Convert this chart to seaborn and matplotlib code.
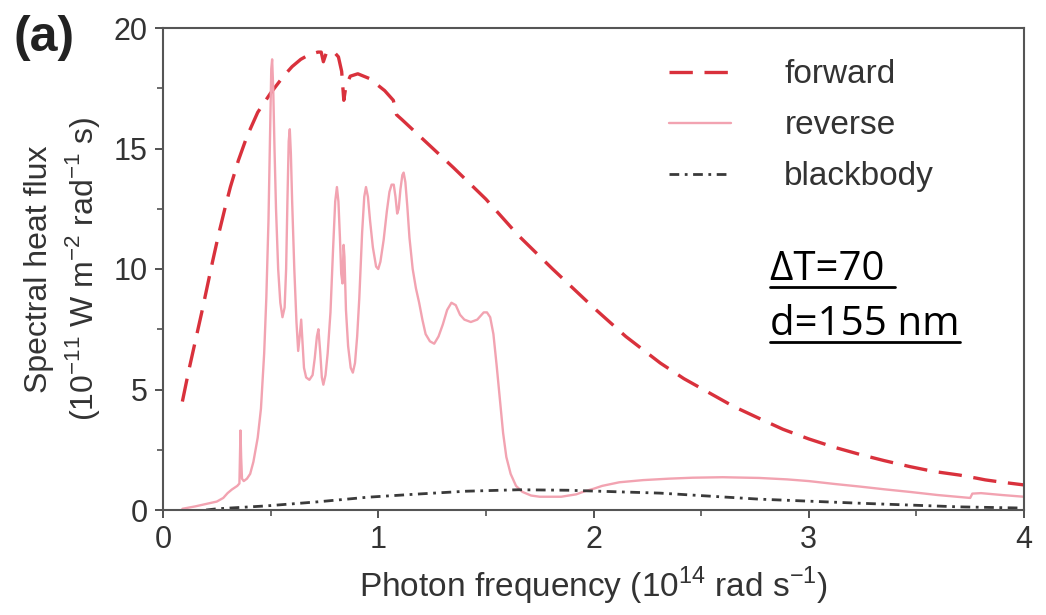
import numpy as np
import pandas as pd
import seaborn as sns
import matplotlib.pyplot as plt
from matplotlib.lines import Line2D
from matplotlib.ticker import MultipleLocator

# Spectral heat flux (10^-11 W m^-2 rad^-1 s) versus photon frequency (10^14 rad/s)
forward_x = [0.09, 0.12, 0.15, 0.18, 0.205, 0.23, 0.26, 0.29, 0.313, 0.35, 0.39,
             0.44, 0.50, 0.56, 0.60, 0.64, 0.68, 0.72, 0.735, 0.745, 0.76, 0.795,
             0.815, 0.83, 0.84, 0.85, 0.87, 0.905, 0.96, 1.03, 1.07, 1.085, 1.11,
             1.17, 1.23, 1.35, 1.50, 1.65, 1.81, 2.00, 2.15, 2.31, 2.42, 2.54,
             2.65, 2.77, 2.88, 3.00, 3.12, 3.24, 3.35, 3.47, 3.58, 3.70, 3.78,
             3.82, 3.90, 4.00]
forward_y = [4.5, 5.8, 7.0, 8.2, 9.25, 10.3, 11.5, 12.6, 13.4, 14.5, 15.5,
             16.5, 17.3, 18.0, 18.4, 18.7, 18.9, 19.0, 19.0, 18.6, 19.0, 19.0,
             18.8, 18.2, 17.0, 17.6, 18.0, 18.1, 17.9, 17.4, 17.0, 16.4, 16.2,
             15.7, 15.2, 14.2, 12.9, 11.4, 10.0, 8.4, 7.2, 6.1, 5.45, 4.85,
             4.3, 3.8, 3.35, 2.95, 2.6, 2.3, 2.05, 1.8, 1.6, 1.45, 1.32,
             1.25, 1.15, 1.04]

reverse_x = [0.09, 0.15, 0.20, 0.25, 0.28, 0.30, 0.32, 0.345, 0.355, 0.358, 0.36,
             0.363, 0.367, 0.375, 0.39, 0.405, 0.42, 0.43, 0.44, 0.455, 0.47,
             0.48, 0.49, 0.497, 0.503, 0.507, 0.512, 0.518, 0.525, 0.535, 0.545,
             0.555, 0.565, 0.572, 0.578, 0.584, 0.589, 0.594, 0.60, 0.61, 0.62,
             0.628, 0.635, 0.642, 0.648, 0.655, 0.665, 0.68, 0.695, 0.705, 0.715,
             0.722, 0.73, 0.738, 0.745, 0.755, 0.765, 0.778, 0.79, 0.80, 0.808,
             0.815, 0.822, 0.828, 0.834, 0.839, 0.843, 0.85, 0.86, 0.872, 0.882,
             0.892, 0.902, 0.912, 0.925, 0.935, 0.943, 0.952, 0.962, 0.975, 0.99,
             1.00, 1.01, 1.025, 1.04, 1.052, 1.062, 1.072, 1.08, 1.088, 1.095,
             1.103, 1.112, 1.118, 1.126, 1.135, 1.145, 1.16, 1.175, 1.19, 1.205,
             1.22, 1.24, 1.26, 1.28, 1.30, 1.32, 1.34, 1.36, 1.38, 1.40, 1.43,
             1.46, 1.49, 1.505, 1.52, 1.535, 1.55, 1.565, 1.58, 1.595, 1.615,
             1.64, 1.67, 1.71, 1.75, 1.85, 1.92, 1.96, 2.00, 2.04, 2.12, 2.23,
             2.35, 2.46, 2.60, 2.77, 2.90, 3.00, 3.12, 3.24, 3.35, 3.47, 3.60,
             3.75, 3.76, 3.80, 3.90, 4.00]
reverse_y = [0.05, 0.15, 0.25, 0.35, 0.5, 0.7, 0.85, 1.0, 1.1, 2.5, 3.3,
             2.2, 1.3, 1.2, 1.3, 1.5, 2.0, 2.5, 3.0, 4.2, 6.5,
             8.8, 12.0, 15.5, 18.3, 18.7, 17.5, 15.0, 12.5, 10.0, 8.6,
             8.0, 8.4, 10.0, 12.8, 15.3, 15.8, 14.8, 12.8, 10.0, 7.8,
             6.6, 7.2, 7.9, 7.0, 5.9, 5.5, 5.4, 5.6, 6.3, 7.2,
             7.5, 6.6, 5.5, 5.2, 5.6, 6.5, 8.2, 10.8, 12.8, 13.4,
             12.8, 11.3, 9.8, 9.4, 11.0, 10.5, 8.3, 6.8, 5.9, 5.7,
             6.1, 7.2, 8.8, 11.5, 13.0, 13.4, 13.0, 12.0, 10.9, 10.1,
             10.0, 10.3, 11.2, 12.4, 13.2, 13.5, 13.5, 13.0, 12.3, 12.5,
             13.3, 13.9, 14.0, 13.6, 12.6, 11.3, 10.0, 9.2, 8.6, 7.9,
             7.3, 7.0, 6.9, 7.2, 7.7, 8.3, 8.6, 8.5, 8.1, 7.9, 7.8,
             7.9, 8.2, 8.2, 8.0, 7.3, 6.0, 4.6, 3.2, 2.2, 1.5,
             1.0, 0.75, 0.6, 0.55, 0.55, 0.65, 0.78, 0.88, 1.0, 1.15, 1.24,
             1.3, 1.34, 1.36, 1.33, 1.27, 1.2, 1.08, 0.97, 0.86, 0.75, 0.62,
             0.5, 0.68, 0.7, 0.62, 0.55]

blackbody_x = [0.20, 0.25, 0.48, 0.72, 0.95, 1.18, 1.41, 1.65, 1.88, 2.31, 2.77,
               3.24, 3.70, 4.00]
blackbody_y = [0.0, 0.05, 0.17, 0.34, 0.53, 0.66, 0.78, 0.84, 0.82, 0.70, 0.45,
               0.28, 0.13, 0.08]

x_ticks = [0, 1, 2, 3, 4]
y_ticks = [0, 5, 10, 15, 20]

sns.set_style("ticks")
plt.rcParams['font.family'] = ['Liberation Sans', 'DejaVu Sans']
plt.rcParams['mathtext.fontset'] = 'custom'
plt.rcParams['mathtext.rm'] = 'Liberation Sans'

fig = plt.figure(figsize=(10.46, 6.15), dpi=100)
ax = fig.add_axes([163 / 1046, 1 - 510 / 615, (1024 - 163) / 1046, (510 - 28) / 615])

sns.lineplot(x=forward_x, y=forward_y, ax=ax, color="#d9313c", lw=2.4,
             label="forward", errorbar=None, sort=False)
ax.lines[-1].set_dashes([7, 3.5])
sns.lineplot(x=reverse_x, y=reverse_y, ax=ax, color="#f2a3b1", lw=1.7,
             label="reverse", errorbar=None, sort=False)
sns.lineplot(x=blackbody_x, y=blackbody_y, ax=ax, color="#3a3a3a", lw=2.0,
             label="blackbody", errorbar=None, sort=False)
ax.lines[-1].set_dashes([3.5, 2, 1, 2])

ax.set_xlim(0, 4)
ax.set_ylim(0, 20)
ax.set_xticks(x_ticks)
ax.set_yticks(y_ticks)
ax.xaxis.set_minor_locator(MultipleLocator(0.5))
ax.yaxis.set_minor_locator(MultipleLocator(2.5))
ax.tick_params(which="major", direction="out", length=6, width=1.3,
               colors="#444444", labelsize=22, labelcolor="#333333", pad=5)
ax.tick_params(which="minor", direction="out", length=4, width=1.1, colors="#444444")

for side, sp in ax.spines.items():
    sp.set_visible(True)
    sp.set_linewidth(1.5)
    sp.set_color("#555555")

ax.set_xlabel("Photon frequency (10$^{14}$ rad s$^{-1}$)", fontsize=24,
              color="#333333", labelpad=7)
ax.set_ylabel("Spectral heat flux\n(10$^{-11}$ W m$^{-2}$ rad$^{-1}$ s)",
              fontsize=23, color="#333333", labelpad=8, linespacing=1.3)

leg = ax.legend(loc="upper left", bbox_to_anchor=(0.588, 0.935), frameon=False,
                fontsize=24, handlelength=1.85, handletextpad=1.6,
                labelspacing=0.6, borderpad=0, borderaxespad=0)
for t in leg.get_texts():
    t.set_color("#333333")

fig.text(14 / 1046, 1 - 38 / 615, "(a)", fontsize=36, fontweight="bold",
         color="#222222", va="center", ha="left")

annot_font = ['Open Sans', 'DejaVu Sans']
t1 = fig.text(770 / 1046, 1 - 280 / 615, "ΔT=70 ", fontsize=29, family=annot_font,
              color="black", va="baseline", ha="left")
t2 = fig.text(770 / 1046, 1 - 335 / 615, "d=155 nm", fontsize=29, family=annot_font,
              color="black", va="baseline", ha="left")

# underline both annotation lines
fig.canvas.draw()
renderer = fig.canvas.get_renderer()
for t, y_px in ((t1, 287), (t2, 342)):
    bb = t.get_window_extent(renderer)
    x0 = bb.x0 / fig.bbox.width
    x1 = bb.x1 / fig.bbox.width
    y = 1 - y_px / 615
    fig.add_artist(Line2D([x0, x1], [y, y], transform=fig.transFigure,
                          color="black", lw=2))

fig.savefig("out.png", dpi=100)
